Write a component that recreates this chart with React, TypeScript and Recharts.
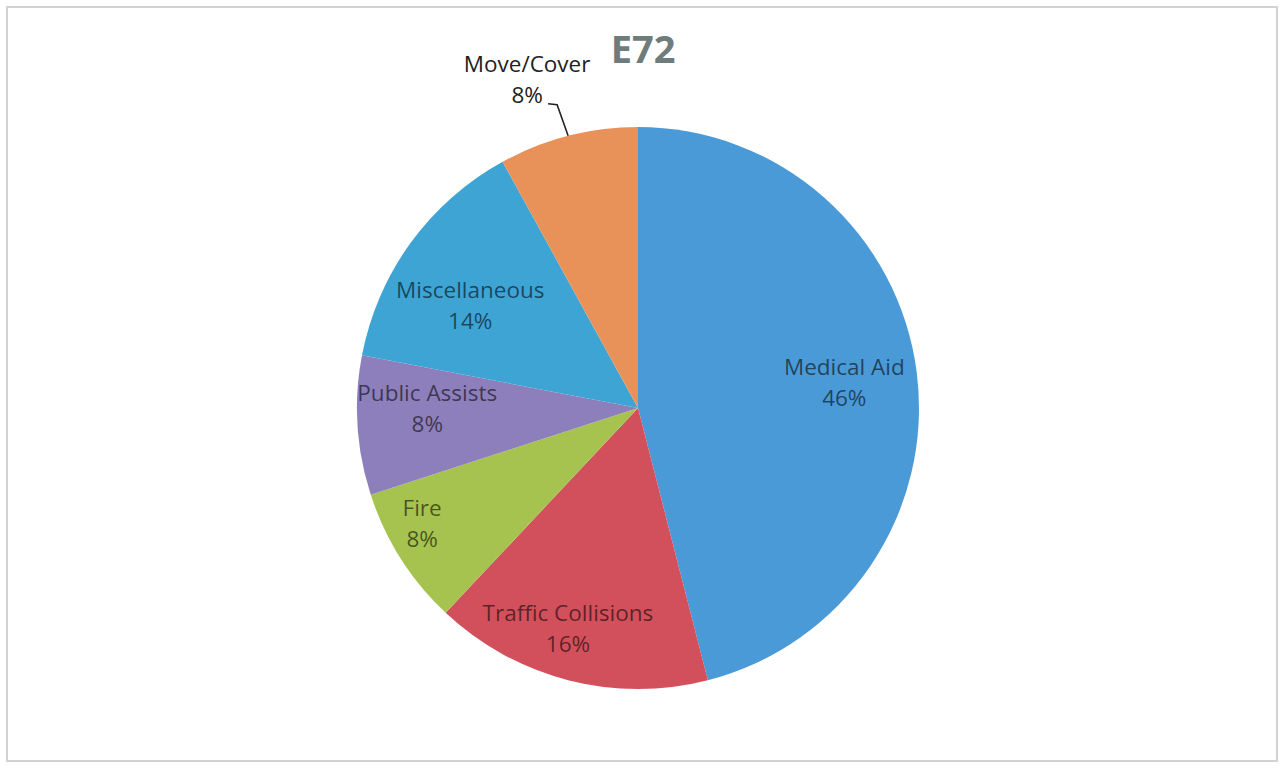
import React from "react";
import { PieChart, Pie, Cell } from "recharts";

const categories = ["Medical Aid", "Traffic Collisions", "Fire", "Public Assists", "Miscellaneous", "Move/Cover"];
const percents = [46, 16, 8, 8, 14, 8];
const colors = ["#4A9AD7", "#D2505C", "#A5C34E", "#8D7FBC", "#3DA4D4", "#E8925A"];
const title = "E72";

const data = categories.map((name, i) => ({ name, value: percents[i] }));

const RAD = Math.PI / 180;
// label placement: [radius factor, clockwise angle shift in degrees]
const labelPlace: Record<string, [number, number]> = {
  "Medical Aid": [0.74, 0],
  "Traffic Collisions": [0.82, 3.3],
  "Fire": [0.87, 4.4],
  "Public Assists": [0.75, 3.6],
  "Miscellaneous": [0.7, -4.5],
};
const FONT = "'Open Sans', sans-serif";
const FS = 22.5;

const renderLabel = (props: any) => {
  const { cx, cy, midAngle, outerRadius, name, value } = props;
  if (name === "Move/Cover") {
    const cos = Math.cos(-midAngle * RAD);
    const sin = Math.sin(-midAngle * RAD);
    const ex = cx + outerRadius * cos;
    const ey = cy + outerRadius * sin;
    const kx = ex - 11;
    const ky = ey - 31;
    const tx = kx - 30;
    return (
      <g>
        <polyline points={`${ex},${ey} ${kx},${ky} ${kx - 9},${ky - 1}`} fill="none" stroke="#222" strokeWidth={1.6} />
        <text x={tx} y={ky - 33} textAnchor="middle" fontFamily={FONT} fontSize={FS} fill="#222">{name}</text>
        <text x={tx} y={ky - 2} textAnchor="middle" fontFamily={FONT} fontSize={FS} fill="#222">{`${value}%`}</text>
      </g>
    );
  }
  const [f, shift] = labelPlace[name] ?? [0.75, 0];
  const a = (midAngle - shift) * RAD;
  const r = outerRadius * f;
  const x = cx + r * Math.cos(-a);
  const y = cy + r * Math.sin(-a);
  return (
    <g>
      <text x={x} y={y - 7} textAnchor="middle" fontFamily={FONT} fontSize={FS} fill="#000" fillOpacity={0.58}>{name}</text>
      <text x={x} y={y + 24} textAnchor="middle" fontFamily={FONT} fontSize={FS} fill="#000" fillOpacity={0.58}>{`${value}%`}</text>
    </g>
  );
};

export default function App() {
  return (
    <div style={{ position: "absolute", left: 0, top: 0, background: "#fff", width: 1285, height: 768 }}>
      <div
        style={{
          position: "absolute",
          left: 6,
          top: 6,
          width: 1272,
          height: 756,
          border: "2px solid #d2d2d2",
          boxSizing: "border-box",
        }}
      />
      <div
        style={{
          position: "absolute",
          left: 543,
          width: 200,
          top: 26,
          textAlign: "center",
          fontFamily: FONT,
          fontWeight: 700,
          fontSize: 38,
          lineHeight: "44px",
          color: "#6E7C7C",
        }}
      >
        {title}
      </div>
      <div style={{ position: "absolute", left: 0, top: 0 }}>
        <PieChart width={1285} height={768} margin={{ top: 0, right: 0, bottom: 0, left: 0 }}>
          <Pie
            data={data}
            dataKey="value"
            nameKey="name"
            cx={638}
            cy={408}
            outerRadius={281}
            startAngle={90}
            endAngle={-270}
            stroke="none"
            label={renderLabel}
            labelLine={false}
            isAnimationActive={false}
          >
            {data.map((d, i) => (
              <Cell key={d.name} fill={colors[i]} />
            ))}
          </Pie>
        </PieChart>
      </div>
    </div>
  );
}
